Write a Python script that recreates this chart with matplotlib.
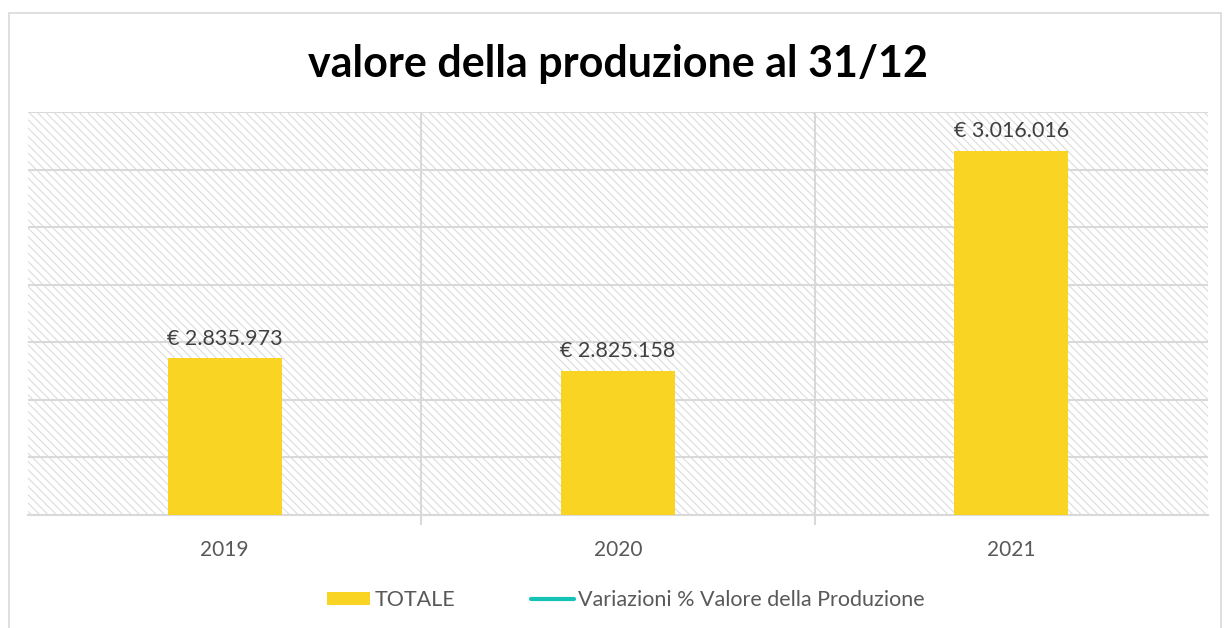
import numpy as np
import matplotlib
matplotlib.use('Agg')
import matplotlib.pyplot as plt
from matplotlib.patches import Rectangle, Patch
from matplotlib.lines import Line2D

# data
anni = ['2019', '2020', '2021']
totale = [2835973, 2825158, 3016016]
etichette = ['€ 2.835.973', '€ 2.825.158', '€ 3.016.016']
titolo = 'valore della produzione al 31/12'

plt.rcParams['font.family'] = ['Lato', 'DejaVu Sans']
plt.rcParams['hatch.linewidth'] = 0.7

giallo = '#F9D423'
teal = '#14C3B5'
grigio = '#D9D9D9'

fig = plt.figure(figsize=(12.26, 6.28), dpi=100)
# outer chart border
fig.patches.append(Rectangle((9 / 1226, -0.01), 1212 / 1226, (628 - 13) / 628 + 0.01,
                             transform=fig.transFigure, fill=False,
                             edgecolor=grigio, lw=1.2))

ax = fig.add_axes([28 / 1226, 113 / 628, 1180 / 1226, 403 / 628])
x = np.arange(len(anni))
ax.set_xlim(-0.5, 2.5)
ax.set_ylim(2700000, 3050000)

# hatched background
ax.add_patch(Rectangle((0, 0), 1, 1, transform=ax.transAxes, facecolor='white',
                       edgecolor='#D8D8D8', hatch='\\\\\\\\', lw=0, zorder=0))

ax.set_yticks(np.arange(2700000, 3050001, 50000))
ax.yaxis.grid(True, color=grigio, lw=1.5, zorder=1)
ax.set_xticks([0.5, 1.5], minor=True)
ax.xaxis.grid(True, which='minor', color=grigio, lw=1.5, zorder=1)
ax.set_axisbelow(True)

bars = ax.bar(x, totale, width=0.29, color=giallo, zorder=3)
for xi, v, lab in zip(x, totale, etichette):
    ax.annotate(lab, (xi, v), xytext=(0, 7), textcoords='offset points',
                ha='center', va='bottom', fontsize=15.5, color='#404040')

ax.set_xticks(x)
ax.set_xticklabels(anni, fontsize=15, color='#595959')
ax.tick_params(axis='x', which='major', length=0, pad=18)
ax.tick_params(axis='x', which='minor', length=7, color=grigio, width=1.5)
ax.tick_params(axis='y', left=False, labelleft=False)
for s in ['left', 'right', 'top']:
    ax.spines[s].set_visible(False)
ax.spines['bottom'].set_color(grigio)
ax.spines['bottom'].set_linewidth(1.5)

ax.set_title(titolo, fontsize=31, fontweight='bold', color='black', pad=25)

handles = [Patch(facecolor=giallo, edgecolor='none'),
           Line2D([0], [0], color=teal, lw=3, solid_capstyle='round')]
fig.legend(handles, ['TOTALE', 'Variazioni % Valore della Produzione'],
           loc='center', bbox_to_anchor=(626 / 1226, 1 - 600 / 628), ncol=2,
           frameon=False, fontsize=15.5, labelcolor='#595959',
           handlelength=2, handleheight=0.6, handletextpad=0.2, columnspacing=3.5)

fig.savefig('out.png', dpi=100)
